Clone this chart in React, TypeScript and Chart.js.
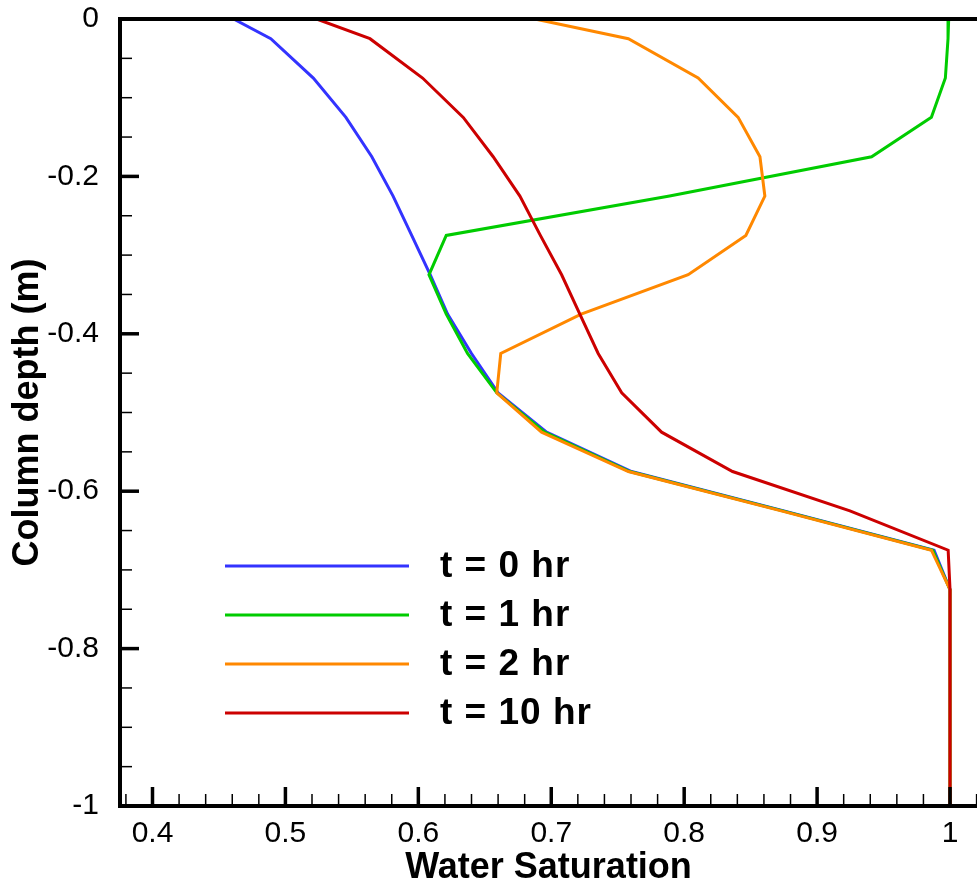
import { useEffect, useRef } from 'react';
import { Chart, registerables } from 'chart.js';

Chart.register(...registerables);

// Depth nodes (m)
const depth = [
  0, -0.025, -0.075, -0.125, -0.175, -0.225, -0.275, -0.325, -0.375, -0.425, -0.475,
  -0.525, -0.575, -0.625, -0.675, -0.725, -0.775, -0.825, -0.875, -0.925, -0.975, -1,
];

// Water saturation per series
const satT0 = [
  0.461, 0.489, 0.521, 0.5455, 0.565, 0.581, 0.595, 0.609, 0.622, 0.64, 0.66,
  0.6965, 0.7604, 0.875, 0.988, 1.0, 1.0, 1.0, 1.0, 1.0, 1.0, 1.0,
];
const satT1 = [
  0.999, 0.9985, 0.9965, 0.986, 0.941, 0.789, 0.621, 0.608, 0.621, 0.637, 0.659,
  0.695, 0.759, 0.874, 0.987, 1.0, 1.0, 1.0, 1.0, 1.0, 1.0, 1.0,
];
const satT2 = [
  0.6877, 0.758, 0.8105, 0.8406, 0.857, 0.8607, 0.8464, 0.803, 0.7225, 0.662, 0.659,
  0.6927, 0.758, 0.873, 0.986, 1.0, 1.0, 1.0, 1.0, 1.0, 1.0, 1.0,
];
const satT10 = [
  0.5235, 0.5636, 0.6032, 0.6338, 0.6563, 0.6764, 0.6918, 0.7078, 0.7215, 0.7353, 0.753,
  0.783, 0.8364, 0.9247, 0.9986, 1.0, 1.0, 1.0, 1.0, 1.0, 1.0, 1.0,
];

const seriesLabels = ['t = 0 hr', 't = 1 hr', 't = 2 hr', 't = 10 hr'];
const seriesValues = [satT0, satT1, satT2, satT10];
const seriesColors = ['#3333FF', '#00CC00', '#FF8800', '#CC0000'];

const xMajorTicks = [0.4, 0.5, 0.6, 0.7, 0.8, 0.9, 1];
const yMajorTicks = [0, -0.2, -0.4, -0.6, -0.8, -1];
const xMinorStep = 0.02;
const yMinorStep = 0.05;
const xRange = [0.37555, 1.0203];
const yRange = [-1, 0];

const xTitle = 'Water Saturation';
const yTitle = 'Column depth (m)';

const FONT = "'Liberation Sans', Arial, Helvetica, sans-serif";

function buildTicks(min: number, max: number, step: number): number[] {
  const out: number[] = [];
  const a = Math.ceil(min / step - 1e-9);
  const b = Math.floor(max / step + 1e-9);
  for (let k = a; k <= b; k++) out.push(Math.round(k * step * 10000) / 10000);
  return out;
}

const isMajor = (v: number, majors: number[]) => majors.some((m) => Math.abs(m - v) < 1e-7);
const fmt = (v: number) => {
  const r = Number(v.toFixed(3));
  return (r === 0 ? 0 : r).toString();
};

const xTickValues = buildTicks(xRange[0], xRange[1], xMinorStep);
const yTickValues = buildTicks(yRange[0], yRange[1], yMinorStep);

const framePlugin = {
  id: 'frameAndTicks',
  afterDatasetsDraw(chart: any) {
    const { ctx, chartArea, scales } = chart;
    const { left, right, top, bottom } = chartArea;
    ctx.save();
    ctx.strokeStyle = '#000';
    ctx.lineCap = 'butt';
    const xs = scales.x;
    xs.ticks.forEach((t: any) => {
      const px = xs.getPixelForValue(t.value);
      const major = isMajor(t.value, xMajorTicks);
      ctx.lineWidth = major ? 3.5 : 1.5;
      ctx.beginPath();
      ctx.moveTo(px, bottom);
      ctx.lineTo(px, bottom - (major ? 19 : 12));
      ctx.stroke();
    });
    const ys = scales.y;
    ys.ticks.forEach((t: any) => {
      const py = ys.getPixelForValue(t.value);
      const major = isMajor(t.value, yMajorTicks);
      ctx.lineWidth = major ? 3.5 : 1.5;
      ctx.beginPath();
      ctx.moveTo(left, py);
      ctx.lineTo(left + (major ? 19 : 12), py);
      ctx.stroke();
    });
    ctx.lineWidth = 4;
    ctx.lineJoin = 'miter';
    ctx.beginPath();
    ctx.moveTo(right, top);
    ctx.lineTo(left, top);
    ctx.lineTo(left, bottom);
    ctx.lineTo(right, bottom);
    ctx.stroke();
    ctx.restore();
  },
};

const legendPlugin = {
  id: 'insideLegend',
  afterDraw(chart: any) {
    const { ctx, chartArea } = chart;
    const lx0 = chartArea.left + 105;
    const lx1 = chartArea.left + 289;
    const tx = chartArea.left + 320;
    const y0 = chartArea.top + 547;
    const gap = 49;
    ctx.save();
    chart.data.datasets.forEach((ds: any, i: number) => {
      const y = y0 + i * gap;
      ctx.strokeStyle = ds.borderColor;
      ctx.lineWidth = 3;
      ctx.beginPath();
      ctx.moveTo(lx0, y);
      ctx.lineTo(lx1, y);
      ctx.stroke();
      ctx.fillStyle = '#000';
      ctx.font = `bold 37px ${FONT}`;
      try {
        (ctx as any).letterSpacing = '1px';
      } catch (e) {
        /* ignore */
      }
      ctx.textAlign = 'left';
      ctx.textBaseline = 'middle';
      ctx.fillText(ds.label, tx, y + 1);
    });
    ctx.restore();
  },
};

export default function App() {
  const canvasRef = useRef<HTMLCanvasElement | null>(null);

  useEffect(() => {
    const canvas = canvasRef.current;
    if (!canvas) return;
    const datasets = seriesLabels.map((label, i) => ({
      label,
      data: depth.map((d, j) => ({ x: seriesValues[i][j], y: d })),
      borderColor: seriesColors[i],
      backgroundColor: seriesColors[i],
      borderWidth: 3,
      pointRadius: 0,
      showLine: true,
      fill: false,
      tension: 0,
      order: seriesLabels.length - 1 - i,
    }));

    const chart = new Chart(canvas, {
      type: 'scatter',
      data: { datasets },
      options: {
        animation: false,
        responsive: false,
        maintainAspectRatio: false,
        layout: { padding: { top: 19, right: 0, left: 0, bottom: 0 } },
        plugins: {
          legend: { display: false },
          tooltip: { enabled: false },
        },
        scales: {
          x: {
            type: 'linear',
            min: xRange[0],
            max: xRange[1],
            grid: { display: false },
            border: { display: false },
            afterBuildTicks: (scale: any) => {
              scale.ticks = xTickValues.map((v) => ({ value: v }));
            },
            afterFit: (scale: any) => {
              scale.height = 80;
              scale.paddingLeft = 0;
              scale.paddingRight = 0;
            },
            ticks: {
              autoSkip: false,
              maxRotation: 0,
              minRotation: 0,
              padding: 2,
              color: '#000',
              font: { family: FONT, size: 30 },
              callback: (value: any) => (isMajor(Number(value), xMajorTicks) ? fmt(Number(value)) : ''),
            },
            title: {
              display: true,
              text: xTitle,
              color: '#000',
              font: { family: FONT, size: 36, weight: 'bold', lineHeight: 1 },
              padding: { top: 0, bottom: 0 },
            },
          },
          y: {
            type: 'linear',
            min: yRange[0],
            max: yRange[1],
            grid: { display: false },
            border: { display: false },
            afterBuildTicks: (scale: any) => {
              scale.ticks = yTickValues.map((v) => ({ value: v }));
            },
            afterFit: (scale: any) => {
              scale.width = 120;
              scale.paddingTop = 0;
              scale.paddingBottom = 0;
            },
            ticks: {
              autoSkip: false,
              padding: 13,
              color: '#000',
              font: { family: FONT, size: 30 },
              callback: (value: any) => (isMajor(Number(value), yMajorTicks) ? fmt(Number(value)) : ''),
            },
            title: {
              display: true,
              text: yTitle,
              color: '#000',
              font: { family: FONT, size: 36, weight: 'bold', lineHeight: 1 },
              padding: { top: 10, bottom: 0 },
            },
          },
        },
      } as any,
      plugins: [framePlugin, legendPlugin],
    });

    return () => {
      chart.destroy();
    };
  }, []);

  return (
    <div style={{ position: 'fixed', left: 0, top: 0, width: 977, height: 886, background: '#fff' }}>
      <canvas ref={canvasRef} width={977} height={886} style={{ display: 'block', width: 977, height: 886 }} />
    </div>
  );
}
